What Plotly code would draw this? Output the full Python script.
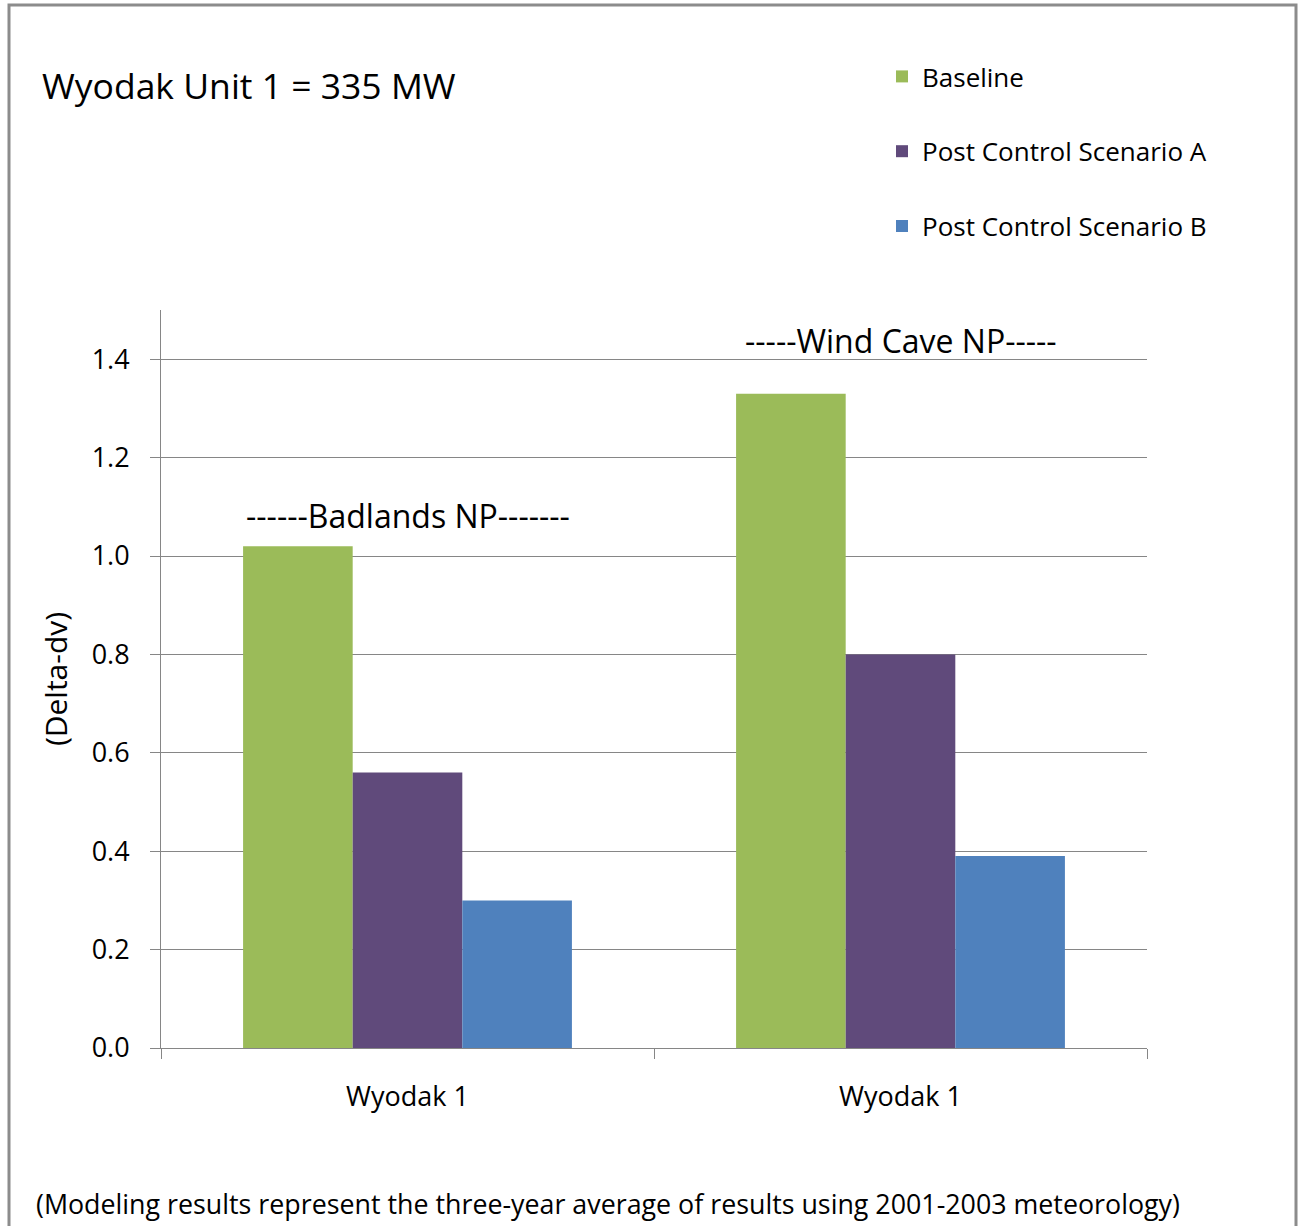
import plotly.graph_objects as go

categories = ["Wyodak 1", "Wyodak 1"]
parks = ["------Badlands NP-------", "-----Wind Cave NP-----"]
series_names = ["Baseline", "Post Control Scenario A", "Post Control Scenario B"]
baseline = [1.02, 1.33]
scenario_a = [0.56, 0.80]
scenario_b = [0.30, 0.39]
y_ticks = [0.0, 0.2, 0.4, 0.6, 0.8, 1.0, 1.2, 1.4]
colors = ["#9BBB59", "#604A7B", "#4F81BD"]

FONT = "Open Sans"
x_pos = list(range(len(categories)))

fig = go.Figure()
for i, (name, vals) in enumerate(zip(series_names, [baseline, scenario_a, scenario_b])):
    fig.add_trace(go.Bar(x=x_pos, y=vals, name=name, marker_color=colors[i],
                         marker_line_width=0, legendgroup=name))

W, H = 1299, 1226
L, R, T, B = 161, 152, 310, 178
pw, ph = W - L - R, H - T - B

def px(xp):
    return (xp - L) / pw

def py(yp):
    return (H - B - yp) / ph

fig.update_layout(
    width=W, height=H,
    margin=dict(l=L, r=R, t=T, b=B),
    paper_bgcolor="white", plot_bgcolor="white",
    barmode="group", bargap=0.333, bargroupgap=0,
    font=dict(family=FONT, color="#000000"),
    showlegend=True,
    legend=dict(x=px(882), y=py(53), xanchor="left", yanchor="top",
                font=dict(size=26, family=FONT), traceorder="grouped",
                tracegroupgap=38, itemwidth=30, bgcolor="rgba(0,0,0,0)"),
    xaxis=dict(range=[-0.5, 1.5], tickvals=x_pos, ticktext=categories,
               ticks="", showgrid=False, showline=True, linecolor="#868686",
               linewidth=1, tickfont=dict(size=27, family=FONT),
               minor=dict(tickvals=[-0.5, 0.5, 1.5], ticks="outside", ticklen=10,
                          tickcolor="#868686", showgrid=False),
               ticklabelstandoff=25, zeroline=False),
    yaxis=dict(range=[0, 1.5], tickvals=y_ticks, tickformat=".1f",
               ticks="outside", ticklen=10, tickcolor="#868686",
               showline=True, linecolor="#868686", linewidth=1,
               showgrid=True, gridcolor="#868686", gridwidth=1,
               tickfont=dict(size=27, family=FONT), ticklabelstandoff=15,
               zeroline=False,
               title=dict(text="(Delta-dv)", font=dict(size=30, family=FONT), standoff=15)),
)

# park labels
park_ann = [(0, 515), (1, 340)]
for (xi, yp), txt in zip(park_ann, parks):
    fig.add_annotation(x=xi, y=py(yp), xref="x", yref="paper", text=txt,
                       showarrow=False, font=dict(size=32, family=FONT),
                       xanchor="center", yanchor="middle")

fig.add_annotation(x=px(40), y=py(85), xref="paper", yref="paper",
                   text="Wyodak Unit 1 = 335 MW", showarrow=False,
                   font=dict(size=35.5, family=FONT), xanchor="left", yanchor="middle")

fig.add_annotation(x=px(34), y=py(1203), xref="paper", yref="paper",
                   text="(Modeling results represent the three-year average of results using 2001-2003 meteorology)",
                   showarrow=False, font=dict(size=26.8, family=FONT),
                   xanchor="left", yanchor="middle")

# outer border
fig.add_shape(type="rect", xref="paper", yref="paper",
              x0=px(9), x1=px(1296), y0=py(1240), y1=py(5),
              line=dict(color="#8C8C8C", width=3), fillcolor="rgba(0,0,0,0)", layer="below")

fig.write_html("out.html", config={"displayModeBar": False},
               post_script="document.body.style.margin='0';document.body.style.overflow='hidden';")
